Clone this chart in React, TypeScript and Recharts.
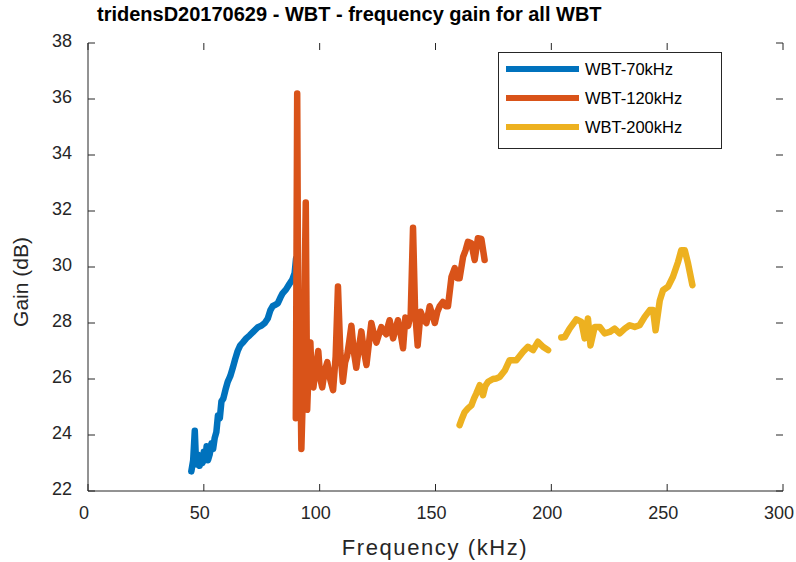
import { LineChart, Line, XAxis, YAxis, Legend } from "recharts";

// WBT-70kHz
const freq70 = [
  44.6, 45.4, 46.1, 46.5, 47.0, 47.6, 48.2, 48.8, 49.4, 50.0, 50.6, 51.2, 51.8, 52.5, 53.3, 54.0,
  54.7, 55.4, 56.1, 56.9, 57.6, 58.4, 59.3, 60.3, 61.4, 62.5, 63.5, 64.6, 65.7, 66.8, 68.3, 69.8,
  71.5, 73.3, 74.8, 76.3, 77.6, 78.7, 79.7, 80.8, 81.9, 83.0, 84.0, 85.5, 87.0, 88.2, 89.2, 89.8,
];
const gain70 = [
  22.7, 23.1, 24.15, 23.3, 22.95, 23.3, 22.9, 23.25, 23.0, 23.4, 23.1, 23.6, 23.1, 23.3, 23.7, 23.5,
  23.9, 24.1, 24.7, 24.6, 25.2, 25.3, 25.6, 25.9, 26.1, 26.4, 26.7, 27.0, 27.2, 27.3, 27.45, 27.56,
  27.7, 27.85, 27.9, 28.0, 28.16, 28.45, 28.6, 28.65, 28.7, 28.9, 29.06, 29.2, 29.4, 29.55, 29.78, 30.3,
];

// WBT-120kHz
const freq120 = [
  89.7, 90.3, 90.9, 91.5, 92.1, 93.0, 94.0, 94.6, 95.3, 96.0, 96.6, 97.3, 98.3, 99.4, 100.3, 101.1,
  102.2, 103.3, 104.5, 105.8, 106.9, 107.9, 108.9, 110.0, 111.0, 111.8, 112.7, 113.7, 114.7, 115.8,
  116.9, 118.0, 119.1, 120.2, 121.3, 122.3, 123.4, 124.5, 125.6, 126.6, 127.7, 128.8, 129.5, 130.2,
  131.7, 132.8, 133.8, 135.0, 136.0, 137.0, 138.2, 139.3, 140.3, 141.2, 142.3, 143.6, 145.0, 146.1,
  147.5, 148.6, 149.7, 150.8, 151.8, 153.2, 154.4, 155.4, 156.9, 158.3, 159.4, 160.4, 161.9, 163.0,
  164.0, 165.5, 166.9, 168.3, 169.8, 171.2,
];
const gain120 = [
  24.6, 36.2, 25.2, 27.5, 23.5, 26.2, 32.3, 24.9, 26.5, 27.3, 25.8, 25.7, 26.4, 27.0, 26.0, 25.7,
  26.3, 26.6, 26.0, 25.6, 26.8, 29.3, 27.0, 25.9, 26.6, 26.8, 27.3, 27.9, 27.0, 26.4,
  27.1, 27.7, 27.0, 26.5, 27.3, 28.0, 27.6, 27.3, 27.6, 27.85, 27.7, 27.6, 27.9, 28.1,
  27.45, 27.8, 28.1, 27.6, 27.1, 28.2, 27.9, 28.3, 31.4, 28.4, 27.2, 28.4, 28.1, 28.0,
  28.6, 28.3, 28.0, 28.4, 28.6, 28.75, 28.6, 28.6, 29.65, 29.96, 29.6, 29.6, 30.36, 30.6,
  30.9, 30.85, 30.25, 31.03, 31.0, 30.25,
];

// WBT-200kHz (null splits the two sweeps)
const freq200 = [
  160.4, 161.5, 162.6, 164.0, 165.5, 166.6, 167.6, 169.1, 170.5, 171.5, 172.7, 174.8, 176.2, 177.7,
  179.9, 182.0, 184.9, 187.8, 189.9, 192.1, 194.2, 196.4, 198.6, 201.5,
  204.3, 205.8, 207.9, 210.8, 213.0, 214.4, 215.8, 216.9, 218.7, 220.9, 223.0, 225.2, 227.3, 229.5,
  231.7, 233.8, 236.0, 238.1, 240.3, 242.5, 243.9, 245.0, 246.8, 248.2, 250.4, 252.5, 254.7, 256.1,
  257.6, 259.0, 260.9,
];
const gain200 = [
  24.35, 24.6, 24.82, 24.95, 25.06, 25.3, 25.48, 25.78, 25.42, 25.75, 25.9, 26.0, 26.02, 26.07,
  26.3, 26.67, 26.67, 26.97, 27.15, 27.03, 27.33, 27.15, 27.03, null,
  27.48, 27.5, 27.8, 28.13, 28.04, 27.45, 28.16, 27.2, 27.86, 27.86, 27.63, 27.68, 27.8, 27.63,
  27.8, 27.92, 27.86, 27.92, 28.22, 28.46, 28.46, 27.74, 28.8, 29.17, 29.3, 29.65, 30.18, 30.6,
  30.6, 30.13, 29.35,
];

const xTicks = [0, 50, 100, 150, 200, 250, 300];
const yTicks = [22, 24, 26, 28, 30, 32, 34, 36, 38];
const xDomain = [0, 300];
const yDomain = [22, 38];

const toPoints = (f: number[], g: (number | null)[]) => f.map((x, i) => ({ f: x, g: g[i] }));

const series = [
  { name: "WBT-70kHz", color: "#0072BD", data: toPoints(freq70, gain70) },
  { name: "WBT-120kHz", color: "#D95319", data: toPoints(freq120, gain120) },
  { name: "WBT-200kHz", color: "#EDB120", data: toPoints(freq200, gain200) },
];

const FONT = "'Liberation Sans', Arial, Helvetica, sans-serif";
const AXIS = "#262626";
const W = 796;
const H = 562;
const M = { top: 43, right: 13, bottom: 71, left: 88 };
const PLOT = { left: M.left, right: W - M.right, top: M.top, bottom: H - M.bottom };
const TICK = 7;

// x tick: label below, inward marks on bottom and top edges of the box
const XTick = (props: any) => {
  const { x, payload } = props;
  return (
    <g>
      <line x1={x} x2={x} y1={PLOT.bottom} y2={PLOT.bottom - TICK} stroke={AXIS} />
      <line x1={x} x2={x} y1={PLOT.top} y2={PLOT.top + TICK} stroke={AXIS} />
      <text x={x - 4} y={PLOT.bottom + 28} textAnchor="middle" fill={AXIS} fontSize={18} fontFamily={FONT}>
        {payload.value}
      </text>
    </g>
  );
};

// y tick: label left, inward marks on left and right edges of the box
const YTick = (props: any) => {
  const { y, payload } = props;
  return (
    <g>
      <line x1={PLOT.left} x2={PLOT.left + TICK} y1={y} y2={y} stroke={AXIS} />
      <line x1={PLOT.right} x2={PLOT.right - TICK} y1={y} y2={y} stroke={AXIS} />
      <text x={PLOT.left - 16} y={y + 3.5} textAnchor="end" fill={AXIS} fontSize={18} fontFamily={FONT}>
        {payload.value}
      </text>
    </g>
  );
};

// box-style legend, entries kept in plotting order
const renderLegend = () => (
  <div
    style={{
      boxSizing: "border-box",
      width: 224,
      height: 97,
      border: `1px solid ${AXIS}`,
      background: "#fff",
      position: "relative",
      fontFamily: FONT,
      fontSize: 16.5,
      color: "#000",
    }}
  >
    {series.map((s, i) => (
      <div key={s.name} style={{ position: "absolute", left: 7, top: 6 + i * 29, height: 20, display: "flex", alignItems: "center" }}>
        <div style={{ width: 73, height: 6, background: s.color }} />
        <span style={{ marginLeft: 6 }}>{s.name}</span>
      </div>
    ))}
  </div>
);

export default function App() {
  return (
    <div style={{ position: "absolute", left: 0, top: 0, width: W, height: H, background: "#fff", fontFamily: FONT }}>
      <div style={{ position: "absolute", left: 97, top: 3, fontSize: 20, fontWeight: "bold", color: "#000", whiteSpace: "nowrap" }}>
        tridensD20170629 - WBT - frequency gain for all WBT
      </div>
      <div
        style={{
          position: "absolute",
          left: 235,
          width: 400,
          top: 535,
          textAlign: "center",
          fontSize: 22,
          letterSpacing: 1.6,
          color: AXIS,
        }}
      >
        Frequency (kHz)
      </div>
      <div
        style={{
          position: "absolute",
          left: 21,
          top: 282,
          transform: "translate(-50%, -50%) rotate(-90deg)",
          fontSize: 21,
          color: AXIS,
          whiteSpace: "nowrap",
        }}
      >
        Gain (dB)
      </div>
      <LineChart
        width={W}
        height={H}
        margin={{ top: M.top, right: M.right, bottom: 0, left: 0 }}
        style={{ position: "absolute", left: 0, top: 0 }}
      >
        <XAxis
          dataKey="f"
          type="number"
          domain={xDomain}
          ticks={xTicks}
          allowDataOverflow
          height={M.bottom}
          tickSize={0}
          tickMargin={0}
          tickLine={false}
          stroke={AXIS}
          tick={<XTick />}
        />
        <XAxis xAxisId="top" orientation="top" type="number" domain={xDomain} height={0} tick={false} tickLine={false} stroke={AXIS} />
        <YAxis
          type="number"
          domain={yDomain}
          ticks={yTicks}
          allowDataOverflow
          width={M.left}
          tickSize={0}
          tickMargin={0}
          tickLine={false}
          stroke={AXIS}
          tick={<YTick />}
        />
        <YAxis yAxisId="right" orientation="right" type="number" domain={yDomain} width={0} tick={false} tickLine={false} stroke={AXIS} />
        <Legend
          layout="horizontal"
          verticalAlign="middle"
          align="center"
          content={renderLegend}
          wrapperStyle={{ position: "absolute", left: 498, top: 52, width: 224, height: 97 }}
        />
        {series.map((s) => (
          <Line
            key={s.name}
            data={s.data}
            dataKey="g"
            name={s.name}
            type="linear"
            stroke={s.color}
            strokeWidth={6.5}
            strokeLinejoin="round"
            strokeLinecap="round"
            dot={false}
            connectNulls={false}
            isAnimationActive={false}
          />
        ))}
      </LineChart>
    </div>
  );
}
